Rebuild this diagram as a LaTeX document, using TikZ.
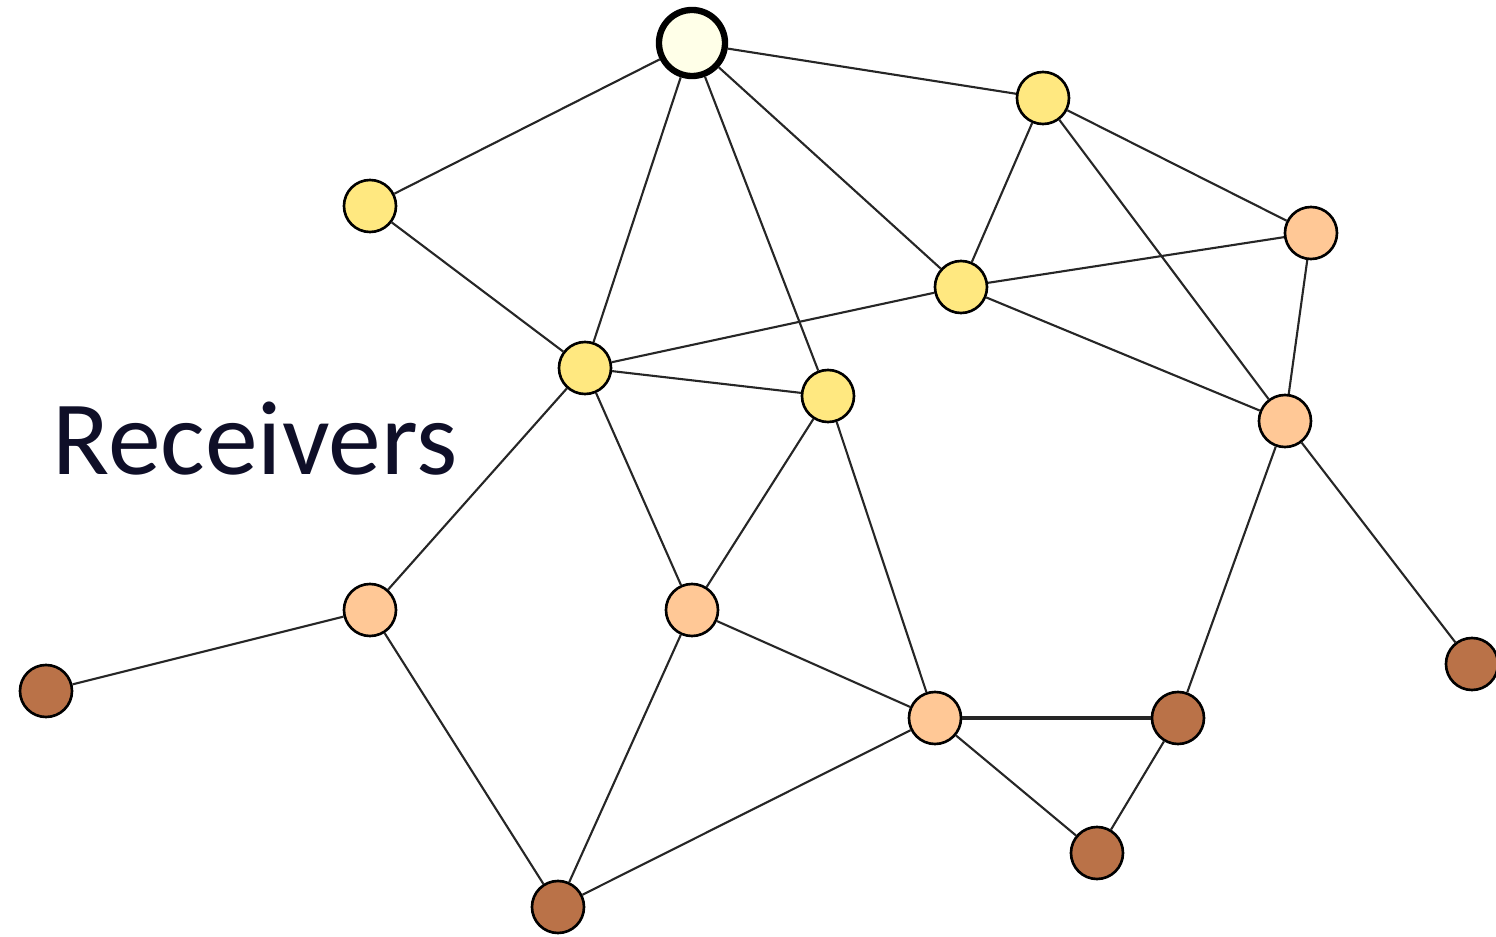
\documentclass[tikz,border=0pt]{standalone}
\usepackage{fontspec}
\setmainfont{Carlito}
\usepackage{xcolor}

\definecolor{srcfill}{RGB}{255,255,232}
\definecolor{yelfill}{RGB}{255,232,128}
\definecolor{peachfill}{RGB}{255,200,150}
\definecolor{brownfill}{RGB}{186,114,72}
\definecolor{labcol}{RGB}{15,15,40}

\tikzset{
  peer/.style={circle,draw=black,line width=0.75pt,minimum size=0.52cm,inner sep=0pt},
  src/.style={peer,fill=srcfill,line width=1.8pt,minimum size=0.66cm},
  yel/.style={peer,fill=yelfill},
  peach/.style={peer,fill=peachfill},
  brown/.style={peer,fill=brownfill},
  link/.style={line width=0.6pt,draw=black!85}
}

\begin{document}
\begin{tikzpicture}[x=0.01cm,y=-0.01cm]

\useasboundingbox (0,0) rectangle (1496,937);

% nodes
\node[src] (S) at (692,43) {};

\node[yel] (Y1) at (1043,98) {};
\node[yel] (Y2) at (370,206) {};
\node[yel] (Y3) at (961,287) {};
\node[yel] (Y4) at (585,368) {};
\node[yel] (Y5) at (828,396) {};

\node[peach] (P1) at (1311,233) {};
\node[peach] (P2) at (1285,421) {};
\node[peach] (P3) at (370,610) {};
\node[peach] (P4) at (692,610) {};
\node[peach] (P5) at (935,718) {};

\node[brown] (B1) at (46,691) {};
\node[brown] (B2) at (1472,664) {};
\node[brown] (B3) at (1178,718) {};
\node[brown] (B4) at (1097,853) {};
\node[brown] (B5) at (558,907) {};

%%%
\draw[link] (S) -- (Y2);
\draw[link] (S) -- (Y4);
\draw[link] (S) -- (Y5);
\draw[link] (S) -- (Y3);
\draw[link] (S) -- (Y1);

\draw[link] (Y1) -- (Y3);
\draw[link] (Y1) -- (P1);
\draw[link] (Y1) -- (P2);
\draw[link] (Y2) -- (Y4);
\draw[link] (Y3) -- (P1);
\draw[link] (Y3) -- (Y4);
\draw[link] (Y3) -- (P2);
\draw[link] (Y4) -- (Y5);
\draw[link] (Y4) -- (P3);
\draw[link] (Y4) -- (P4);
\draw[link] (Y5) -- (P4);
\draw[link] (Y5) -- (P5);

\draw[link] (P1) -- (P2);
\draw[link] (P2) -- (B3);
\draw[link] (P2) -- (B2);
\draw[link] (P3) -- (B1);
\draw[link] (P3) -- (B5);
\draw[link] (P4) -- (B5);
\draw[link] (P4) -- (P5);
\draw[link] (P5) -- (B5);
\draw[link,line width=1pt] (P5) -- (B3);
\draw[link] (P5) -- (B4);
\draw[link] (B3) -- (B4);
%%%
\node[anchor=base west,inner sep=0pt,text=labcol,font=\fontsize{30}{34}\selectfont] (recv) at (52,475) {Receivers};

\end{tikzpicture}
\end{document}
